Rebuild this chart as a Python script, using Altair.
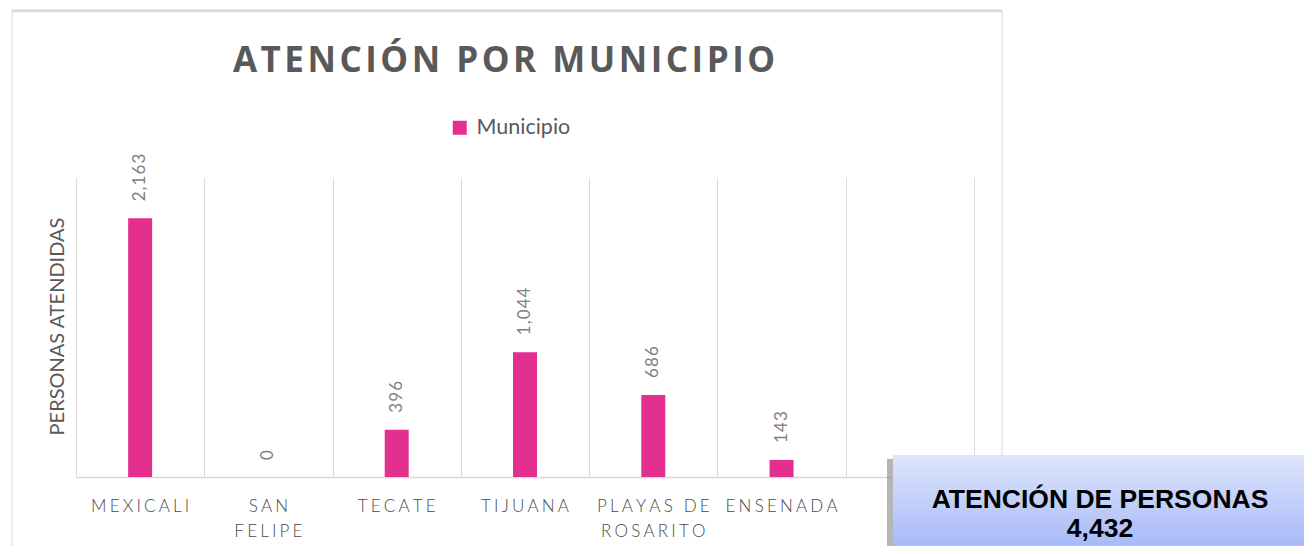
import altair as alt
import pandas as pd

# ---- data ----
categories = ["MEXICALI", "SAN FELIPE", "TECATE", "TIJUANA", "PLAYAS DE ROSARITO", "ENSENADA"]
x_labels = ["MEXICALI", "SAN\nFELIPE", "TECATE", "TIJUANA", "PLAYAS DE\nROSARITO", "ENSENADA"]
values = [2163, 0, 396, 1044, 686, 143]
series_name = "Municipio"
blank_slot = " "
y_max = 2500
chart_title = "ATENCIÓN POR MUNICIPIO"
y_title = "PERSONAS ATENDIDAS"
box_title = "ATENCIÓN DE PERSONAS"
total_text = f"{sum(values):,}"

THIN = "\u2009"
HAIR = "\u200a"


def spaced(s, sep):
    return "\n".join(sep.join(line) for line in s.split("\n"))


domain = categories + [blank_slot]

df = pd.DataFrame({"cat": categories, "value": values, "serie": [series_name] * len(categories),
                   "vlab": [spaced(f"{v:,}", HAIR) for v in values]})
df_lab = pd.DataFrame({"cat": categories, "lab": [spaced(s, THIN + HAIR) for s in x_labels]})
one = pd.DataFrame({"t": [box_title + "\n" + total_text]})

PINK = "#E3308F"
GREY = "#595959"
LIGHT = "#d9d9d9"

W, H = 898, 299

xs = alt.X("cat:N", scale=alt.Scale(domain=domain, paddingInner=0, paddingOuter=0),
           axis=alt.Axis(title=None, labels=False, ticks=False, grid=True, tickBand="extent",
                         gridColor=LIGHT, gridWidth=1, domainColor=LIGHT, domainWidth=1.5))
ys = alt.Y("value:Q", scale=alt.Scale(domain=[0, y_max], nice=False),
           axis=alt.Axis(title=y_title, labels=False, ticks=False, domain=False, grid=False,
                         titleAngle=270, titleX=-19, titleY=148, titleAlign="center",
                         titleBaseline="middle", titleFontSize=20, titleColor=GREY,
                         titleFont="Lato", titleFontWeight="normal"))

frame = alt.Chart(one).mark_rect(fillOpacity=0, stroke=LIGHT, strokeWidth=1).encode(
    x=alt.value(-64), x2=alt.value(926), y=alt.value(-168), y2=alt.value(400))
frame_top = alt.Chart(one).mark_rule(color=LIGHT, strokeWidth=2.5).encode(
    x=alt.value(-64), x2=alt.value(926), y=alt.value(-167))

bars = alt.Chart(df).mark_bar(width=24).encode(
    x=xs, y=ys,
    color=alt.Color("serie:N", scale=alt.Scale(range=[PINK]),
                    legend=alt.Legend(title=None, orient="none", legendX=373, legendY=-61,
                                      symbolType="square", symbolSize=196, symbolStrokeWidth=0,
                                      labelFontSize=21.5, labelColor=GREY, labelFont="Lato",
                                      labelOffset=6, padding=0)))

vals = alt.Chart(df).mark_text(angle=270, align="left", baseline="middle", dx=17,
                               fontSize=17, color="#7f7f7f", font="Lato").encode(
    x=alt.X("cat:N", scale=alt.Scale(domain=domain)), y="value:Q", text="vlab:N")

xlab = alt.Chart(df_lab).mark_text(align="center", baseline="alphabetic", lineBreak="\n",
                                   lineHeight=25, fontSize=17, fontWeight=300,
                                   color="#4a4a4a", font="Lato").encode(
    x=alt.X("cat:N", scale=alt.Scale(domain=domain)), y=alt.value(334), text="lab:N")

title = alt.Chart(one).mark_text(align="center", baseline="alphabetic", fontSize=35,
                                 fontWeight="bold", color=GREY,
                                 font="Open Sans").encode(
    x=alt.value(428), y=alt.value(-106), text=alt.value(spaced(chart_title, HAIR)))

shadow = alt.Chart(one).mark_rect(color="#7a7a7a", opacity=0.55).encode(
    x=alt.value(811), x2=alt.value(1225), y=alt.value(281), y2=alt.value(400))
box = alt.Chart(one).mark_rect(
    fill=alt.Gradient(gradient="linear", x1=0, y1=0, x2=0, y2=1,
                      stops=[alt.GradientStop(offset=0, color="#dfe5fb"),
                             alt.GradientStop(offset=1, color="#93acf8")])).encode(
    x=alt.value(817), x2=alt.value(1231), y=alt.value(277), y2=alt.value(400))
box_text = alt.Chart(one).mark_text(align="center", baseline="alphabetic", lineBreak="\n",
                                    lineHeight=29, fontSize=26.5, fontWeight="bold",
                                    color="#000000", font="Liberation Sans").encode(
    x=alt.value(1024), y=alt.value(330), text="t:N")

chart = alt.layer(frame, frame_top, bars, vals, xlab, title, shadow, box, box_text).properties(
    width=W, height=H,
    autosize=alt.AutoSizeParams(type="none"),
    padding={"left": 68, "top": 170, "right": 330, "bottom": 69},
    background="white",
).configure_view(strokeWidth=0)

chart.save("out.html", embed_options={"renderer": "svg", "actions": False})
